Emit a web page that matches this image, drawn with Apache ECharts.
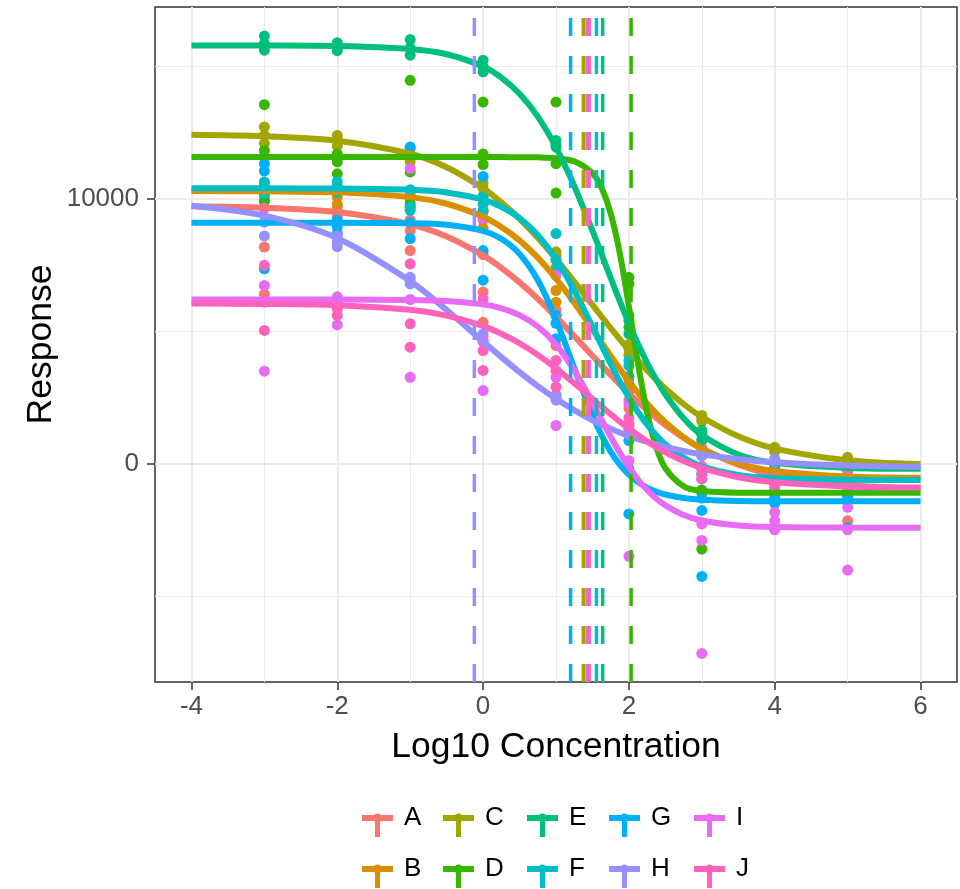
<!DOCTYPE html>
<html><head><meta charset="utf-8">
<script src="https://cdn.jsdelivr.net/npm/echarts@6/dist/echarts.min.js"></script>
<style>html,body{margin:0;padding:0;background:#fff}#chart{width:960px;height:889px}</style>
</head><body><div id="chart"></div>
<script>
// ---------------- data ----------------
const groups = ['A','B','C','D','E','F','G','H','I','J'];
const colors = ['#F8766D','#D89000','#A3A500','#39B600','#00BF7D','#00BFC4','#00B0F6','#9590FF','#E76BF3','#FF62BC'];
const doseLevels = [-3,-2,-1,0,1,2,3,4,5];

// replicate responses per dose level (3 each)
const pointsA = [[10100,8180,6400],[9700,9500,9300],[9200,8800,8050],[7900,6480,5340],[5800,5600,4460],[2700,2400,2100],[870,600,400],[-400,-500,-600],[-600,-700,-2160]];
const pointsB = [[10600,10200,9900],[10300,10070,9800],[10200,10000,9700],[9500,9200,8900],[7860,6540,6100],[3200,3000,2800],[500,400,300],[-200,-300,-400],[-500,-550,-600]];
const pointsC = [[12720,12400,12100],[12400,12210,12000],[11900,11700,11400],[10600,10410,10100],[8000,7700,7400],[4500,4350,4100],[1820,1700,1600],[620,550,450],[240,100,0]];
const pointsD = [[13560,11830,9940],[11700,11400,10950],[14480,11020,9820],[13660,11700,11300],[13660,11330,10220],[7040,6800,5150],[-1000,-1100,-3230],[-1050,-1100,-1150],[-1100,-1150,-1200]];
const pointsE = [[16150,15870,15620],[15900,15740,15600],[16020,15700,15430],[15240,14990,14800],[12210,12050,11960],[5600,5400,4900],[1260,1100,900],[100,0,-100],[-150,-200,-250]];
const pointsF = [[10640,10450,10200],[10650,10450,10250],[10350,9690,9570],[10100,9800,9570],[8690,7700,7300],[3890,3700,3300],[-200,-390,-580],[-450,-500,-600],[-600,-650,-700]];
const pointsG = [[11330,11050,7360],[9200,8940,8700],[11960,9100,8500],[10850,8050,6930],[5600,5300,4720],[870,-200,-1900],[-1300,-1770,-4260],[-1270,-1400,-1500],[-1300,-1400,-2410]];
const pointsH = [[9630,9120,8600],[8600,8370,8200],[7040,6900,6790],[4900,4780,4600],[2600,2510,2400],[1400,1300,1200],[400,350,300],[180,100,50],[50,-50,-100]];
const pointsI = [[9650,6730,3490],[6300,6150,5240],[11140,6200,3260],[9250,4650,2760],[7110,3260,1440],[2270,110,-3500],[-2280,-2900,-7170],[-1840,-2160,-2500],[-1650,-2500,-4020]];
const pointsJ = [[7490,6100,5030],[6000,5850,5600],[7550,5280,4400],[6230,4270,3520],[3900,3520,2890],[1740,1500,1100],[-100,-400,-570],[-700,-800,-900],[-270,-900,-1000]];

// fitted curves read at these concentrations
const curveX = [-4,-3,-2,-1,-0.5,0,0.25,0.5,0.75,1,1.25,1.5,1.625,1.75,1.875,2,2.125,2.25,2.375,2.5,2.75,3,3.5,4,5,6];
const curveA = [9723,9668,9505,9042,8577,7864,7396,6847,6227,5544,4820,4078,3711,3349,2996,2655,2330,2020,1730,1458,974,567,-39,-425,-803,-934];
const curveB = [10297,10288,10247,10067,9818,9329,8943,8434,7783,6990,6074,5078,4572,4069,3582,3114,2674,2268,1895,1559,997,562,6,-280,-488,-536];
const curveC = [12423,12368,12199,11706,11198,10404,9874,9250,8532,7735,6880,5998,5558,5123,4699,4288,3894,3521,3168,2840,2252,1760,1031,569,125,-26];
const curveD = [11580,11580,11580,11580,11580,11580,11579,11577,11570,11540,11421,10969,10418,9454,7946,5938,3777,1925,621,-175,-854,-1037,-1096,-1100,-1100,-1100];
const curveE = [15799,15796,15777,15662,15464,15000,14582,13971,13109,11949,10490,8799,7908,7014,6139,5300,4520,3809,3173,2614,1718,1080,347,28,-162,-194];
const curveF = [10400,10399,10393,10344,10245,9973,9702,9277,8637,7729,6550,5175,4463,3764,3102,2492,1948,1473,1068,730,226,-100,-430,-552,-611,-619];
const curveG = [9100,9100,9099,9082,9026,8795,8492,7923,6938,5450,3611,1823,1076,455,-38,-417,-701,-909,-1059,-1167,-1298,-1363,-1410,-1422,-1425,-1425];
const curveH = [9744,9366,8517,6900,5802,4613,4024,3458,2930,2449,2019,1634,1476,1321,1178,1048,929,823,722,632,478,354,169,52,-71,-119];
const curveI = [6200,6200,6198,6183,6144,6015,5868,5610,5179,4498,3525,2306,1656,1017,416,-128,-600,-996,-1320,-1579,-1939,-2150,-2338,-2395,-2418,-2420];
const curveJ = [6046,6033,5986,5809,5590,5197,4909,4547,4107,3598,3035,2447,2153,1865,1586,1320,1071,838,624,430,98,-163,-515,-708,-864,-906];

// EC50 (log10) per group, drawn as dashed vertical lines
const ec50 = [1.43,1.38,1.375,2.03,1.64,1.555,1.2,-0.12,1.44,1.455];

const xTicks = [-4,-2,0,2,4,6];
const yTicks = [0,10000];

// ---------------- layout ----------------
const allPoints = [pointsA,pointsB,pointsC,pointsD,pointsE,pointsF,pointsG,pointsH,pointsI,pointsJ];
const allCurves = [curveA,curveB,curveC,curveD,curveE,curveF,curveG,curveH,curveI,curveJ];

const X_MIN = -4.5, X_MAX = 6.5, Y_MIN = -8250, Y_MAX = 17250;
const X_STEP = 0.5, Y_STEP = 250;
const P = {left:155, top:7, width:802, height:675};
const FONT = '"Liberation Sans", Arial, Helvetica, sans-serif';
const GRIDC = '#EBEBEB', T = 'rgba(0,0,0,0)';

function lineColors(min, step, period, target) {
  const n = Math.round(period / step);
  const arr = new Array(n).fill(T);
  const idx = ((Math.round((target - min) / step) % n) + n) % n;
  arr[idx] = GRIDC;
  return arr;
}

const gridB = {
  left: P.left + P.width * (xTicks[0] - X_MIN) / (X_MAX - X_MIN),
  width: P.width * (xTicks[xTicks.length-1] - xTicks[0]) / (X_MAX - X_MIN),
  top: P.top, height: P.height
};
const gridC = {
  left: P.left, width: P.width,
  top: P.top + P.height * (Y_MAX - yTicks[yTicks.length-1]) / (Y_MAX - Y_MIN),
  height: P.height * (yTicks[yTicks.length-1] - yTicks[0]) / (Y_MAX - Y_MIN)
};

const hidden = {axisLine:{show:false,onZero:false}, axisTick:{show:false}, axisLabel:{show:false}};
const plainNum = v => String(v);

const xAxis = [
  Object.assign({gridIndex:0, type:'value', min:X_MIN, max:X_MAX, interval:X_STEP, position:'bottom',
    splitLine:{show:true, showMinLine:true, showMaxLine:true, lineStyle:{color:lineColors(X_MIN,X_STEP,2,0), width:2}},
    name:'Log10 Concentration', nameLocation:'middle', nameGap:47,
    nameTextStyle:{fontSize:35.5, color:'#000', fontFamily:FONT}}, hidden),
  Object.assign({gridIndex:0, type:'value', min:X_MIN, max:X_MAX, interval:X_STEP, position:'top',
    splitLine:{show:true, showMinLine:true, showMaxLine:true, lineStyle:{color:lineColors(X_MIN,X_STEP,2,1), width:1}}}, hidden),
  {gridIndex:1, type:'value', min:xTicks[0], max:xTicks[xTicks.length-1], interval:xTicks[1]-xTicks[0], position:'bottom',
    axisLine:{show:false,onZero:false}, splitLine:{show:false},
    axisTick:{show:true, length:8, lineStyle:{color:'#333333', width:1.5}},
    axisLabel:{show:true, fontSize:26, color:'#4D4D4D', fontFamily:FONT, margin:12, formatter:plainNum}},
  {gridIndex:2, type:'value', min:0, max:1, show:false, axisLine:{onZero:false}}
];
const yAxis = [
  Object.assign({gridIndex:0, type:'value', min:Y_MIN, max:Y_MAX, interval:Y_STEP, position:'left',
    splitLine:{show:true, showMinLine:true, showMaxLine:true, lineStyle:{color:lineColors(Y_MIN,Y_STEP,10000,0), width:2}},
    name:'Response', nameLocation:'middle', nameGap:96,
    nameTextStyle:{fontSize:35.5, color:'#000', fontFamily:FONT}}, hidden),
  Object.assign({gridIndex:0, type:'value', min:Y_MIN, max:Y_MAX, interval:Y_STEP, position:'right',
    splitLine:{show:true, showMinLine:true, showMaxLine:true, lineStyle:{color:lineColors(Y_MIN,Y_STEP,10000,5000), width:1}}}, hidden),
  {gridIndex:1, type:'value', min:0, max:1, show:false, axisLine:{onZero:false}},
  {gridIndex:2, type:'value', min:yTicks[0], max:yTicks[yTicks.length-1], interval:yTicks[1]-yTicks[0], position:'left',
    axisLine:{show:false,onZero:false}, splitLine:{show:false},
    axisTick:{show:true, length:8, lineStyle:{color:'#333333', width:1.5}},
    axisLabel:{show:true, fontSize:26, color:'#4D4D4D', fontFamily:FONT, margin:16, formatter:plainNum}}
];

const series = [];
groups.forEach((g, i) => {
  series.push({
    name:g, type:'line', xAxisIndex:0, yAxisIndex:0, z:3, silent:true,
    data: curveX.map((x, k) => [x, allCurves[i][k]]),
    showSymbol:false, symbol:'none', smooth:0.3,
    itemStyle:{color:colors[i]}, lineStyle:{color:colors[i], width:6}
  });
});
groups.forEach((g, i) => {
  const d = [];
  doseLevels.forEach((x, k) => allPoints[i][k].forEach(v => d.push([x, v])));
  series.push({
    name:g, type:'scatter', xAxisIndex:0, yAxisIndex:0, z:2, silent:true,
    data:d, symbolSize:11, itemStyle:{color:colors[i], opacity:1}
  });
});
groups.forEach((g, i) => {
  series.push({
    name:g, type:'line', xAxisIndex:0, yAxisIndex:0, z:4, silent:true,
    data:[[ec50[i], Y_MIN],[ec50[i], Y_MAX]], showSymbol:false, symbol:'none',
    itemStyle:{color:colors[i]}, lineStyle:{color:colors[i], width:3.5, type:[18,20]}
  });
});

// legend: 2 rows x 5 columns (column-major order like ggplot)
const colLeft = [362, 443, 527, 609, 694];
const rowTop = [799, 850];
const ICON = 'path://M37,0M0,16H31V22H0ZM13,22H18V38H13ZM11,19A4.5,4.5,0,1,1,20,19A4.5,4.5,0,1,1,11,19Z';
const legend = groups.map((g, i) => ({
  data:[{name:g, icon:ICON}],
  left: colLeft[Math.floor(i/2)], top: rowTop[i%2],
  orient:'horizontal', padding:0, itemGap:0, itemWidth:37, itemHeight:38,
  selectedMode:false, itemStyle:{borderWidth:0},
  textStyle:{fontSize:26, color:'#000', fontFamily:FONT}
}));

const chart = echarts.init(document.getElementById('chart'), null, {renderer:'canvas'});
chart.setOption({
  animation:false,
  backgroundColor:'#ffffff',
  textStyle:{fontFamily:FONT},
  grid:[
    Object.assign({show:true, backgroundColor:'#ffffff', borderColor:'#333333', borderWidth:1.5, containLabel:false, outerBoundsMode:'none'}, P),
    Object.assign({show:false, containLabel:false, outerBoundsMode:'none'}, gridB),
    Object.assign({show:false, containLabel:false, outerBoundsMode:'none'}, gridC)
  ],
  xAxis, yAxis, legend, series
});
</script>
</body></html>
